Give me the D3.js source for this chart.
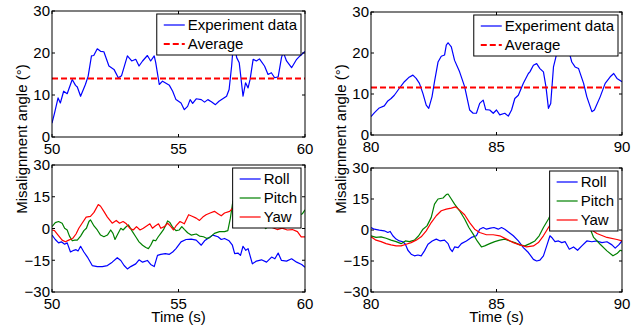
<!DOCTYPE html>
<html>
<head>
<meta charset="utf-8">
<script src="https://cdn.jsdelivr.net/npm/d3@7"></script>
<style>
  body { margin: 0; background: #fff; }
  svg { display: block; font-family: 'Liberation Sans', Arial, sans-serif; }
</style>
</head>
<body>
<div id="chart"></div>
<script>
// ---- data ----
const expA = [[50,3.3],[50.1,5.7],[50.24,9.3],[50.33,8.1],[50.46,10.9],[50.6,10.3],[50.8,13.7],[50.93,12.3],[51,11.9],[51.13,9.7],[51.32,12.5],[51.43,14.5],[51.56,19.3],[51.65,19.4],[51.79,21],[51.92,20.4],[52.05,20.3],[52.25,16.9],[52.45,16.1],[52.62,14.1],[52.75,14.6],[52.98,19.3],[53.15,18.1],[53.31,18.5],[53.44,16.9],[53.58,18.1],[53.77,19.4],[53.9,18.1],[54.04,19.3],[54.1,17.7],[54.24,12.5],[54.37,13.3],[54.64,12.3],[54.77,10.9],[54.9,8.9],[55.1,8.1],[55.23,6.5],[55.36,7.3],[55.46,8.9],[55.56,8],[55.7,9.1],[55.9,8.9],[56.03,8.3],[56.16,8.9],[56.3,8.4],[56.46,7.7],[56.6,8.5],[56.9,9.7],[57,11.3],[57.1,16.9],[57.18,23],[57.24,21],[57.3,18.9],[57.4,17.7],[57.55,9.7],[57.65,12.9],[57.75,11.7],[57.83,13.7],[57.95,18.5],[58.08,18.1],[58.2,18.6],[58.4,16.9],[58.54,14.9],[58.67,15.3],[58.8,14.1],[58.94,14.3],[59.07,18.9],[59.14,20.2],[59.27,18.1],[59.47,16.5],[59.67,18.5],[59.8,19.3],[60,20.4]];
const avgA = 13.9;

const expB = [[80,4.5],[80.13,5.4],[80.33,6.6],[80.53,7.1],[80.67,8.3],[80.8,8.9],[80.93,9.7],[81.13,11.4],[81.33,13],[81.5,14],[81.67,14.6],[81.8,13.8],[81.93,12.6],[82.07,10.1],[82.2,7.3],[82.3,6.5],[82.43,9.3],[82.53,13],[82.67,17.8],[82.8,19.2],[82.93,19.5],[83,21.9],[83.07,22.5],[83.2,21.5],[83.33,18.2],[83.53,15.4],[83.73,11.8],[83.93,6.1],[84.07,5.3],[84.2,5.3],[84.33,7.7],[84.47,8.5],[84.57,6.2],[84.73,6.1],[84.87,5.3],[85,6.1],[85.13,4.9],[85.33,5.3],[85.47,4.6],[85.6,6.1],[85.73,8.9],[85.87,9.7],[86.07,12.6],[86.27,15],[86.33,15.4],[86.47,17],[86.6,17.4],[86.73,16.2],[86.87,15.4],[86.97,11.8],[87.07,6.5],[87.16,7.7],[87.27,16.6],[87.37,19.1],[87.47,21.5],[87.67,22.7],[87.87,20.7],[88,17.8],[88.13,16.6],[88.27,16.2],[88.47,12.6],[88.6,9.3],[88.8,5.7],[88.9,6.1],[89.13,9.3],[89.33,12.6],[89.53,14.2],[89.67,15],[89.8,13.8],[90,13]];
const avgB = 11.6;

const rollA = [[50,-3.1],[50.13,-5.2],[50.26,-6.8],[50.37,-6.3],[50.5,-7.4],[50.6,-6.8],[50.73,-11.1],[50.86,-10.3],[50.95,-10],[51.03,-10.6],[51.13,-8.4],[51.26,-11.1],[51.4,-13.5],[51.59,-17.5],[51.79,-18],[51.99,-18],[52.19,-17.5],[52.38,-15.9],[52.58,-13.8],[52.72,-15.1],[52.85,-17.5],[52.98,-19.1],[53.11,-18],[53.31,-16.7],[53.44,-14.8],[53.58,-15.9],[53.77,-15.1],[53.9,-17],[54.04,-18],[54.17,-12.7],[54.3,-12.2],[54.48,-11.9],[54.64,-12.2],[54.77,-11.1],[54.9,-9.5],[55.1,-6.3],[55.3,-5.2],[55.5,-5],[55.7,-5.5],[55.9,-7.9],[56.03,-5.8],[56.16,-4.7],[56.36,-3.1],[56.56,-3.9],[56.69,-5.2],[56.82,-4.7],[57,-5.8],[57.13,-7.9],[57.22,-11.9],[57.35,-11.6],[57.45,-12.7],[57.55,-8.4],[57.66,-10.3],[57.75,-9.5],[57.92,-16.7],[58.08,-15.4],[58.28,-14.8],[58.48,-15.9],[58.68,-13.5],[58.81,-14.3],[58.94,-11.6],[59.07,-15.1],[59.27,-15.4],[59.47,-14.3],[59.67,-15.9],[59.87,-17],[60,-18.3]];
const pitchA = [[50,0.9],[50.13,2.8],[50.26,3.3],[50.4,2.5],[50.5,0.1],[50.6,-0.7],[50.69,-3.6],[50.8,-5.8],[50.9,-5.5],[51,-5.5],[51.13,-3.6],[51.26,-1],[51.36,0.1],[51.46,3.3],[51.52,4.1],[51.66,1.2],[51.79,-0.7],[51.92,-3.1],[52.05,-3.9],[52.19,-3.1],[52.32,-0.7],[52.41,-2.3],[52.49,-5.2],[52.58,-3.1],[52.72,0.1],[52.81,-0.7],[52.91,0.6],[53.02,1.7],[53.18,-1.5],[53.31,-3.9],[53.44,-6.3],[53.58,-7.9],[53.71,-9],[53.81,-9.5],[53.9,-7.9],[54,-5.5],[54.1,-5.8],[54.2,-3.9],[54.3,-2.3],[54.4,-0.7],[54.5,1.7],[54.57,3.6],[54.66,2.8],[54.77,0.6],[54.9,-1],[55.03,-0.7],[55.13,0.9],[55.23,-0.4],[55.36,-2],[55.5,-3.1],[55.7,-2.6],[55.83,-3.6],[55.99,-3.9],[56.12,-4.7],[56.23,-4.3],[56.42,-2.3],[56.62,-1.5],[56.82,-1.5],[56.95,-1],[57.05,4.9],[57.15,12.9],[57.25,13.7],[57.5,10],[58,5],[58.3,2],[58.45,0],[58.6,2],[59,6],[59.5,5],[59.9,7],[60,8.8]];
const yawA = [[50,-0.7],[50.1,-1],[50.24,-3.1],[50.4,-5.5],[50.53,-6.3],[50.66,-5.5],[50.82,-4.7],[50.95,-2.6],[51.06,0.1],[51.19,2.5],[51.35,5.4],[51.52,5.7],[51.66,7.6],[51.83,11.3],[51.92,10.5],[52.05,8.1],[52.19,5.4],[52.38,2.5],[52.54,3.8],[52.67,2.5],[52.81,3.3],[52.94,2.2],[53.08,0.1],[53.21,-0.7],[53.34,0.9],[53.48,-0.7],[53.61,0.1],[53.74,1.2],[53.87,2.2],[53.97,0.1],[54.08,1.2],[54.21,2.2],[54.3,0.1],[54.44,0.9],[54.57,2.5],[54.7,0.9],[54.8,-0.7],[54.9,1.2],[55.06,3.3],[55.23,2.2],[55.4,6.5],[55.56,5.7],[55.7,4.9],[55.83,3.8],[55.96,5.4],[56.09,6.5],[56.25,7.3],[56.42,8.1],[56.56,7],[56.69,6],[56.82,7.3],[57.02,8.1],[57.15,9.7],[57.5,8],[58,5],[58.5,1],[58.7,0.5],[58.9,-0.5],[59.1,0.2],[59.3,-0.7],[59.5,-0.5],[59.7,-1.5],[59.85,-4],[60,-4]];

const rollB = [[80,1.2],[80.13,0.4],[80.33,-0.1],[80.53,-0.4],[80.67,-1.2],[80.76,-0.7],[80.87,-2.8],[81,-4.4],[81.13,-5.3],[81.27,-5.7],[81.37,-6.9],[81.47,-9.8],[81.6,-11.7],[81.73,-12.5],[81.87,-12.1],[82,-12.5],[82.13,-10.1],[82.27,-6.9],[82.44,-5.3],[82.6,-4.4],[82.76,-5.3],[82.93,-4.9],[83.07,-6.6],[83.16,-9.3],[83.24,-10.4],[83.33,-8.2],[83.47,-8.5],[83.6,-6.6],[83.8,-5.3],[84,-3.6],[84.2,-2.8],[84.33,0.4],[84.47,1.2],[84.6,0.4],[84.76,0.9],[84.9,1.2],[85.07,0.4],[85.2,1.2],[85.33,0.4],[85.5,-1.2],[85.67,-2.8],[85.87,-5.3],[86.07,-8.5],[86.27,-10.9],[86.47,-14.2],[86.6,-15],[86.73,-14.6],[86.87,-12.5],[87,-7.7],[87.13,-2.8],[87.2,-3.6],[87.33,-5.6],[87.47,-5.3],[87.6,-6.1],[87.73,-5.6],[87.9,-9.3],[88.07,-8.2],[88.23,-9.8],[88.4,-7.7],[88.6,-5.3],[88.8,-5.7],[89,-5.3],[89.2,-6.1],[89.4,-5.7],[89.6,-7.2],[89.73,-8.8],[89.87,-7.2],[90,-5.3]];
const pitchB = [[80,-2.8],[80.2,-3.6],[80.4,-3.3],[80.6,-4],[80.8,-4.9],[81,-5.6],[81.2,-6.6],[81.37,-5.3],[81.53,-5.6],[81.73,-4.9],[81.9,-2.8],[82.07,0.4],[82.23,2],[82.4,6.1],[82.53,12.5],[82.67,15],[82.87,15.5],[83,17.1],[83.07,17.4],[83.2,15],[83.33,12.5],[83.53,9.3],[83.73,5.3],[83.9,1.2],[84.07,-2],[84.23,-5.3],[84.4,-8.2],[84.53,-7.7],[84.73,-6.6],[84.93,-5.6],[85.13,-4.9],[85.33,-4.4],[85.53,-5.3],[85.73,-6.1],[85.93,-7.2],[86.13,-7.7],[86.33,-6.6],[86.53,-5.3],[86.7,-2.8],[86.87,1.2],[87.07,5.3],[87.2,8.5],[87.27,10.9],[87.5,14],[88,12],[88.5,5],[88.75,0],[88.87,-3.6],[89.13,-6.9],[89.4,-10.1],[89.64,-12.5],[89.8,-11.4],[89.93,-9.8],[90,-10.1]];
const yawB = [[80,-3.3],[80.2,-4.9],[80.4,-5.6],[80.6,-6.6],[80.8,-7.2],[81,-7.7],[81.2,-7.7],[81.4,-6.9],[81.6,-6.1],[81.8,-4.9],[82,-3.3],[82.2,-0.4],[82.4,3.6],[82.6,6.9],[82.8,9.3],[83,10.1],[83.2,10.6],[83.37,11.2],[83.53,9.6],[83.73,7.4],[83.93,3.6],[84.13,0.4],[84.33,-1.2],[84.6,-2.3],[84.87,-2.3],[85.13,-2.8],[85.4,-4.4],[85.67,-6.1],[85.93,-7.2],[86.2,-8.2],[86.47,-7.7],[86.67,-6.1],[86.87,-2.8],[87.07,1.2],[87.24,4.4],[87.5,8],[88,10],[88.5,5],[88.8,0],[89,-1.7],[89.4,-3.6],[89.8,-4.6],[90,-5.3]];

const topTicks = [0, 10, 20, 30];
const bottomTicks = [-30, -15, 0, 15, 30];
const xTicksA = [50, 55, 60];
const xTicksB = [80, 85, 90];

const W = 639, H = 331;
const FONT = 15;

const svg = d3.select('#chart').append('svg')
  .attr('width', W)
  .attr('height', H);

let clipId = 0;

function panel(cfg) {
  const { box, xDomain, yDomain, xTicks, yTicks, series, legend } = cfg;
  const x = d3.scaleLinear(xDomain, [box.x, box.x + box.w]);
  const y = d3.scaleLinear(yDomain, [box.y + box.h, box.y]);
  const g = svg.append('g');

  const id = 'clip' + (clipId++);
  svg.append('clipPath').attr('id', id)
    .append('rect').attr('x', box.x).attr('y', box.y).attr('width', box.w).attr('height', box.h);

  const line = d3.line().x((d) => x(d[0])).y((d) => y(d[1]));
  const plot = g.append('g').attr('clip-path', `url(#${id})`);
  series.forEach((s) => {
    const p = plot.append('path')
      .datum(s.data)
      .attr('fill', 'none')
      .attr('stroke', s.color)
      .attr('stroke-width', s.width || 1.2)
      .attr('stroke-linejoin', 'round')
      .attr('d', line);
    if (s.dash) p.attr('stroke-dasharray', s.dash);
  });

  // matlab style axes: ticks inward on all sides
  const tl = 3;
  const axG = g.append('g').attr('stroke', '#000').attr('stroke-width', 1);
  xTicks.forEach((t) => {
    axG.append('line').attr('x1', x(t)).attr('x2', x(t)).attr('y1', box.y + box.h).attr('y2', box.y + box.h - tl);
    axG.append('line').attr('x1', x(t)).attr('x2', x(t)).attr('y1', box.y).attr('y2', box.y + tl);
  });
  yTicks.forEach((t) => {
    axG.append('line').attr('x1', box.x).attr('x2', box.x + tl).attr('y1', y(t)).attr('y2', y(t));
    axG.append('line').attr('x1', box.x + box.w).attr('x2', box.x + box.w - tl).attr('y1', y(t)).attr('y2', y(t));
  });
  g.append('rect')
    .attr('x', box.x).attr('y', box.y).attr('width', box.w).attr('height', box.h)
    .attr('fill', 'none').attr('stroke', '#000').attr('stroke-width', 1);

  const fmt = (v) => (v < 0 ? '\u2212' + Math.abs(v) : String(v));
  g.selectAll('.xl').data(xTicks).join('text')
    .attr('x', (d) => x(d))
    .attr('y', box.y + box.h + 17)
    .attr('text-anchor', 'middle')
    .attr('font-size', FONT)
    .text(fmt);
  g.selectAll('.yl').data(yTicks).join('text')
    .attr('x', box.x - 2)
    .attr('y', (d) => y(d))
    .attr('dy', '0.35em')
    .attr('text-anchor', 'end')
    .attr('font-size', FONT)
    .text(fmt);

  // legend
  const lg = g.append('g');
  const rowH = 19;
  const bg = lg.append('rect');
  const boxTop = box.y + legend.top;
  const texts = legend.items.map((it, i) => lg.append('text')
    .attr('y', boxTop + 11 + i * rowH)
    .attr('dy', '0.35em')
    .attr('font-size', FONT)
    .text(it.label));
  const tw = d3.max(texts, (t) => t.node().getComputedTextLength());
  const lw = 7 + 21 + 3 + tw + 4;
  const lx = box.x + box.w - legend.right - lw;
  bg.attr('x', lx).attr('y', boxTop).attr('width', lw).attr('height', legend.items.length * rowH + 3)
    .attr('fill', '#fff').attr('stroke', '#000').attr('stroke-width', 1);
  legend.items.forEach((it, i) => {
    const ly = boxTop + 11 + i * rowH;
    const l = lg.append('line')
      .attr('x1', lx + 7).attr('x2', lx + 28).attr('y1', ly).attr('y2', ly)
      .attr('stroke', it.color).attr('stroke-width', it.width || 1.2);
    if (it.dash) l.attr('stroke-dasharray', it.dash);
    texts[i].attr('x', lx + 31);
  });

  if (cfg.xLabel) {
    g.append('text')
      .attr('x', box.x + box.w / 2)
      .attr('y', 322)
      .attr('text-anchor', 'middle')
      .attr('font-size', FONT)
      .text(cfg.xLabel);
  }
}

const blue = '#0000ff', green = '#008000', red = '#ff0000';

function topPanel(box, data, avg, xDomain, xTicks) {
  panel({
    box, xDomain, xTicks,
    yDomain: [0, 30],
    yTicks: topTicks,
    series: [
      { data, color: blue },
      { data: [[xDomain[0], avg], [xDomain[1], avg]], color: red, width: 2, dash: '6,3' },
    ],
    legend: {
      top: 3, right: 4,
      items: [
        { label: 'Experiment data', color: blue },
        { label: 'Average', color: red, width: 2, dash: '6,3' },
      ],
    },
  });
}

function bottomPanel(box, roll, pitch, yaw, xDomain, xTicks) {
  panel({
    box, xDomain, xTicks,
    yDomain: [-30, 30],
    yTicks: bottomTicks,
    xLabel: 'Time (s)',
    series: [
      { data: roll, color: blue },
      { data: pitch, color: green },
      { data: yaw, color: red },
    ],
    legend: {
      top: 3, right: 4,
      items: [
        { label: 'Roll', color: blue },
        { label: 'Pitch', color: green },
        { label: 'Yaw', color: red },
      ],
    },
  });
}

topPanel({ x: 52, y: 11, w: 253, h: 126 }, expA, avgA, [50, 60], xTicksA);
topPanel({ x: 371, y: 12, w: 251, h: 123 }, expB, avgB, [80, 90], xTicksB);
bottomPanel({ x: 52, y: 165, w: 253, h: 127 }, rollA, pitchA, yawA, [50, 60], xTicksA);
bottomPanel({ x: 371, y: 168, w: 251, h: 124 }, rollB, pitchB, yawB, [80, 90], xTicksB);

// y axis titles
[{ x: 27, y: 139 }, { x: 346, y: 139 }].forEach((p) => {
  svg.append('text')
    .attr('transform', `translate(${p.x},${p.y}) rotate(-90)`)
    .attr('text-anchor', 'middle')
    .attr('font-size', FONT)
    .text('Misalignment angle (\u00b0)');
});
</script>
</body>
</html>
